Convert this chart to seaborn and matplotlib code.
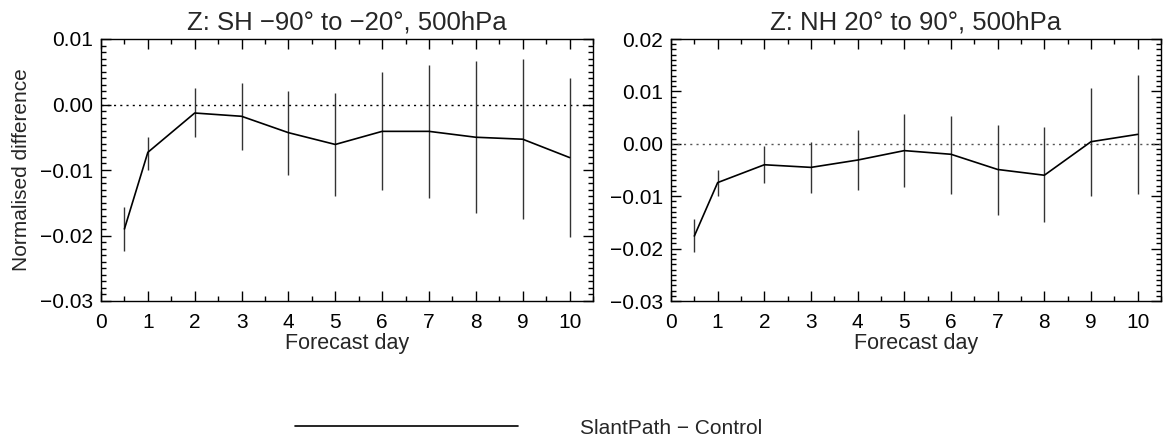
import numpy as np
import pandas as pd
import matplotlib
matplotlib.use("Agg")
import matplotlib.pyplot as plt
from matplotlib.ticker import MultipleLocator
from matplotlib.lines import Line2D
import seaborn as sns

# ---------------- data ----------------
days = [0.5, 1, 2, 3, 4, 5, 6, 7, 8, 9, 10]

sh_mean = [-0.0190, -0.0073, -0.0013, -0.0018, -0.0043, -0.0061, -0.0041, -0.0041, -0.0050, -0.0053, -0.0081]
sh_low = [-0.0224, -0.0100, -0.0049, -0.0070, -0.0108, -0.0139, -0.0130, -0.0142, -0.0166, -0.0175, -0.0203]
sh_high = [-0.0156, -0.0049, 0.0025, 0.0033, 0.0021, 0.0017, 0.0050, 0.0060, 0.0066, 0.0069, 0.0041]

nh_mean = [-0.0176, -0.0074, -0.0040, -0.0045, -0.0031, -0.0013, -0.0020, -0.0049, -0.0060, 0.0004, 0.0018]
nh_low = [-0.0207, -0.0099, -0.0075, -0.0093, -0.0089, -0.0082, -0.0096, -0.0135, -0.0150, -0.0099, -0.0096]
nh_high = [-0.0143, -0.0050, -0.0004, 0.0003, 0.0027, 0.0056, 0.0054, 0.0035, 0.0032, 0.0106, 0.0132]

titles = ["Z: SH \u221290\u00b0 to \u221220\u00b0, 500hPa", "Z: NH 20\u00b0 to 90\u00b0, 500hPa"]
series_label = "SlantPath \u2212 Control"
x_label = "Forecast day"
y_label = "Normalised difference"

# ---------------- style ----------------
sns.set_theme(style="ticks")
plt.rcParams['font.family'] = ['Liberation Sans', 'DejaVu Sans']
plt.rcParams['axes.linewidth'] = 1.0

W, H = 1163, 438
fig = plt.figure(figsize=(W / 100, H / 100), dpi=100)

def fig_rect(x0, y0, x1, y1):
    return [x0 / W, 1 - y1 / H, (x1 - x0) / W, (y1 - y0) / H]

ax1 = fig.add_axes(fig_rect(101, 39, 593, 301))
ax2 = fig.add_axes(fig_rect(671, 39, 1161, 301))

panels = [
    (ax1, sh_mean, sh_low, sh_high, (-0.03, 0.01), titles[0], "black"),
    (ax2, nh_mean, nh_low, nh_high, (-0.03, 0.02), titles[1], "#555555"),
]

minus_fmt = plt.FuncFormatter(lambda v, p: ("%.2f" % v).replace("-", "\u2212"))

for i, (ax, mean, low, high, ylim, title, zcol) in enumerate(panels):
    df = pd.DataFrame({"day": days, "value": mean})
    ax.axhline(0, color=zcol, linestyle=(0, (1.5, 3)), linewidth=1.0, zorder=1)
    ax.vlines(days, low, high, color="#333333", linewidth=1.0, zorder=2)
    sns.lineplot(data=df, x="day", y="value", ax=ax, color="black", linewidth=1.2,
                 zorder=3, legend=False)
    ax.set_xlim(0, 10.5)
    ax.set_ylim(*ylim)
    ax.xaxis.set_major_locator(MultipleLocator(1))
    ax.xaxis.set_minor_locator(MultipleLocator(0.5))
    ax.yaxis.set_major_locator(MultipleLocator(0.01))
    ax.yaxis.set_minor_locator(MultipleLocator(0.001))
    ax.yaxis.set_major_formatter(minus_fmt)
    ax.tick_params(which='both', direction='in', top=True, right=True, colors='black',
                   labelsize=15, width=1.0)
    ax.tick_params(which='major', length=7)
    ax.tick_params(axis='x', which='major', pad=9)
    ax.tick_params(axis='y', which='major', pad=6)
    ax.tick_params(which='minor', length=3.5)
    for s in ax.spines.values():
        s.set_color('black')
        s.set_linewidth(1.0)
    ax.set_xlabel(x_label, fontsize=15.5, labelpad=0)
    ax.set_ylabel(y_label if i == 0 else "", fontsize=15)
    ax.set_title(title, fontsize=18.5, pad=7)

ax1.yaxis.set_label_coords((31 - 101) / 492, 0.5)

# legend
handle = Line2D([], [], color="black", linewidth=1.2)
fig.legend([handle], [series_label], loc="center left",
           bbox_to_anchor=(295 / W, 1 - 428 / H), frameon=False,
           fontsize=15, handlelength=10.7, handletextpad=3.0,
           borderpad=0, borderaxespad=0)

fig.savefig("out.png", dpi=100)
